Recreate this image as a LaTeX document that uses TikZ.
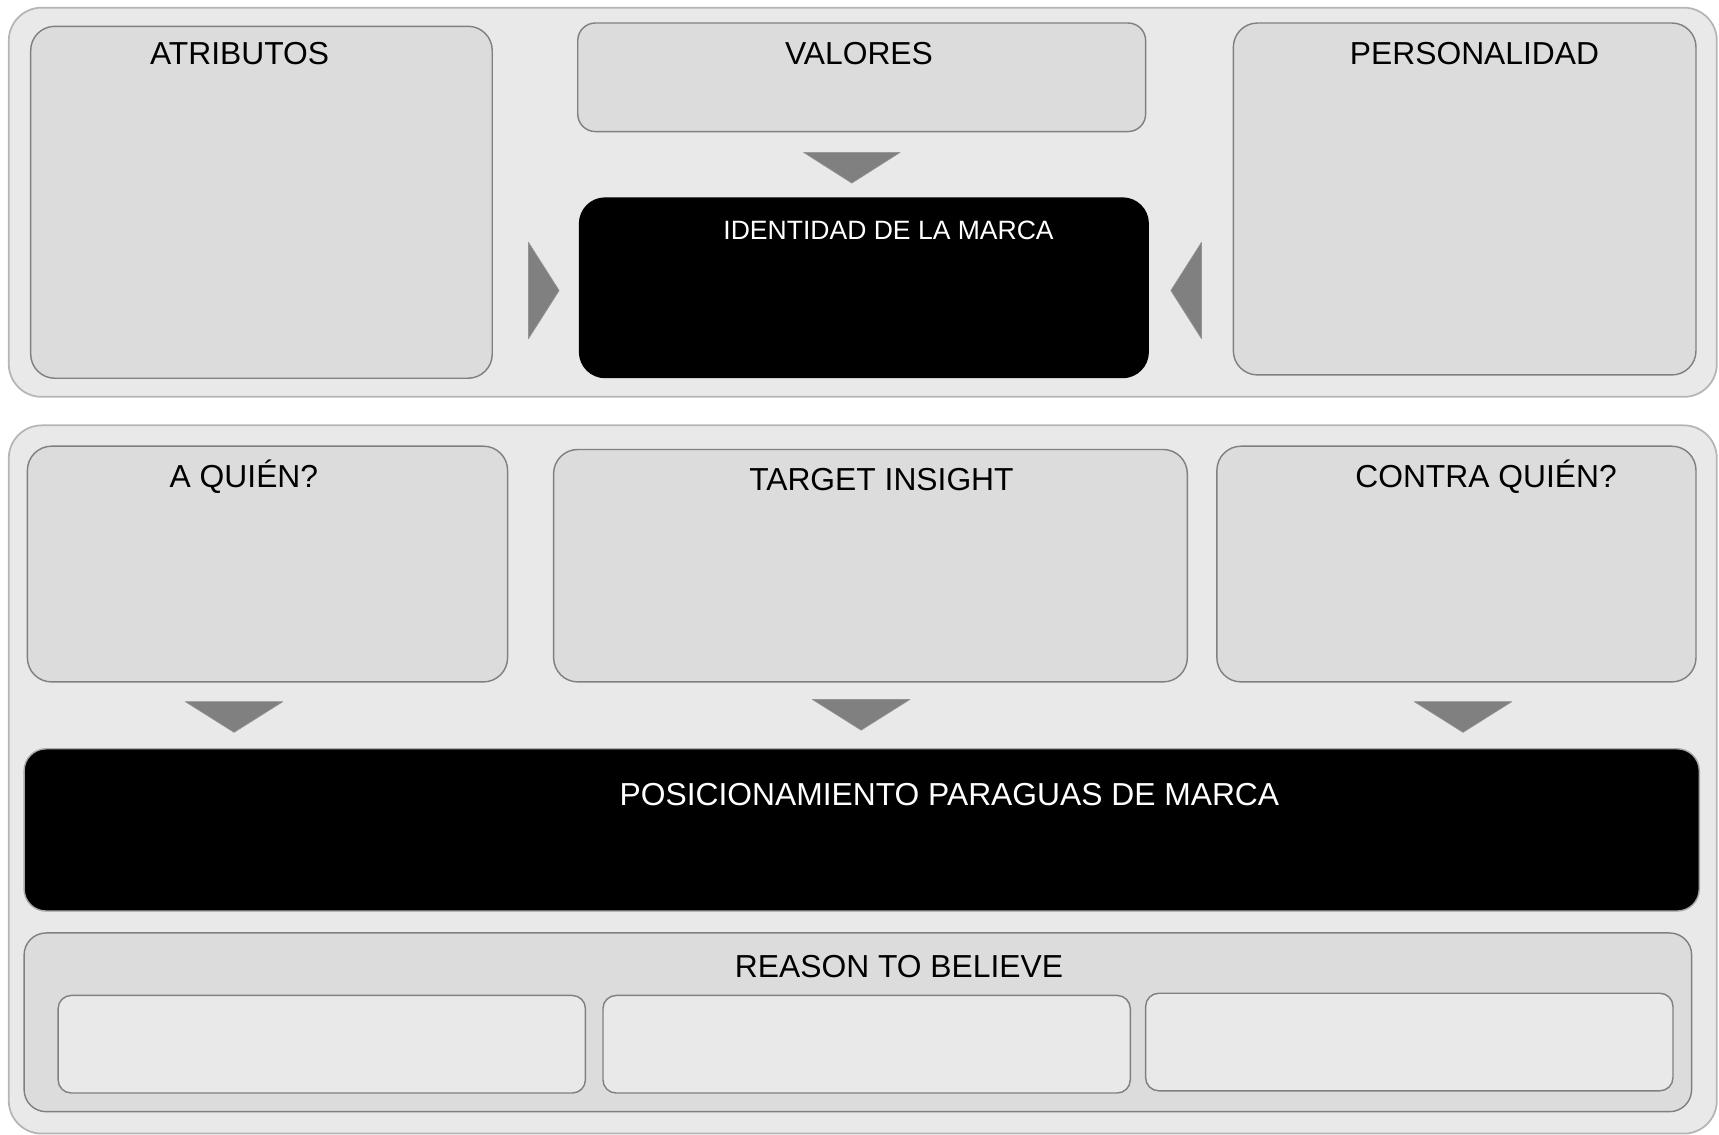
\documentclass[tikz,border=0pt]{standalone}
\usepackage{fontspec}
\setmainfont{Liberation Sans}
\usetikzlibrary{positioning}
\definecolor{panelfill}{HTML}{E9E9E9}
\definecolor{paneldraw}{HTML}{B5B5B5}
\definecolor{cardfill}{HTML}{DCDCDC}
\definecolor{carddraw}{HTML}{808080}
\definecolor{markgray}{HTML}{808080}
\definecolor{darkdraw}{HTML}{A8A8A8}
\tikzset{
  panel/.style={draw=paneldraw, fill=panelfill, line width=1.6pt, rounded corners=30pt,
                inner sep=0pt, outer sep=0pt},
  card/.style={draw=carddraw, fill=cardfill, line width=1.3pt, rounded corners=22pt,
               inner sep=0pt, outer sep=0pt},
  darkcard/.style={card, draw=darkdraw, fill=black, rounded corners=24pt},
  slot/.style={card, fill=panelfill, rounded corners=12pt},
  marker/.style={fill=markgray, draw=markgray!85, line width=0.6pt, line join=round},
  title/.style={anchor=base, inner sep=0pt, font=\fontsize{29}{34}\selectfont},
}

\begin{document}
\begin{tikzpicture}[x=1pt, y=-1pt]
  \useasboundingbox (0,0) rectangle (1568,1035);

  % identidad de la marca
  \node[panel, minimum width=1558pt, minimum height=355pt] (top) at (787,184.5) {};
  \node[card, minimum width=421pt, minimum height=321pt] (atrib) at (238.5,184.5) {};
  \node[card, rounded corners=16pt, minimum width=518pt, minimum height=99pt] (valores) at (786,70.5) {};
  \node[card, minimum width=422pt, minimum height=321pt] (perso) at (1336,181.5) {};
  \node[darkcard, draw=none, minimum width=520pt, minimum height=165pt] (ident) at (788,262.5) {};

  \node[title] (tatrib) at (218.5,58.4) {ATRIBUTOS};
  \node[title] (tvalores) at (783.5,58.4) {VALORES};
  \node[title] (tperso) at (1345,58.4) {PERSONALIDAD};
  \node[title, text=white, font=\fontsize{24.2}{30}\selectfont] (tident) at (810.5,218.9) {IDENTIDAD DE LA MARCA};

  \filldraw[marker] (733,139) -- (821,139) -- (777,167) -- cycle;
  \filldraw[marker] (482,221) -- (510,265) -- (482,309) -- cycle;
  \filldraw[marker] (1096,221) -- (1068,265) -- (1096,309) -- cycle;

  % posicionamiento
  \node[panel, minimum width=1558pt, minimum height=646pt] (bottom) at (787,711) {};
  \node[card, minimum width=438pt, minimum height=215pt] (aquien) at (244,514.5) {};
  \node[card, minimum width=578pt, minimum height=212pt] (insight) at (794,516) {};
  \node[card, minimum width=437pt, minimum height=215pt] (contra) at (1328.5,514.5) {};
  \node[darkcard, rounded corners=20pt, minimum width=1528pt, minimum height=148pt] (posic) at (786,757) {};
  \node[card, rounded corners=20pt, minimum width=1521pt, minimum height=163pt] (reason) at (782.5,932.5) {};
  \node[slot, minimum width=481pt, minimum height=89pt] (rtb1) at (293.5,952.5) {};
  \node[slot, minimum width=481pt, minimum height=89pt, right=16pt of rtb1] (rtb2) {};
  \node[slot, minimum width=481pt, minimum height=89pt, right=14pt of rtb2, yshift=2pt] (rtb3) {};

  \node[title] (taquien) at (222.5,444.5) {A QUIÉN?};
  \node[title] (tinsight) at (804,447.5) {TARGET INSIGHT};
  \node[title] (tcontra) at (1355.5,444.5) {CONTRA QUIÉN?};
  \node[title, text=white] (tposic) at (866,734.3) {POSICIONAMIENTO PARAGUAS DE MARCA};
  \node[title] (treason) at (820,891.5) {REASON TO BELIEVE};

  \foreach \cx/\ty in {213.5/640, 785.5/638, 1334.5/640}
    \filldraw[marker] (\cx-44.5,\ty) -- (\cx+44.5,\ty) -- (\cx,\ty+28) -- cycle;
\end{tikzpicture}
\end{document}
